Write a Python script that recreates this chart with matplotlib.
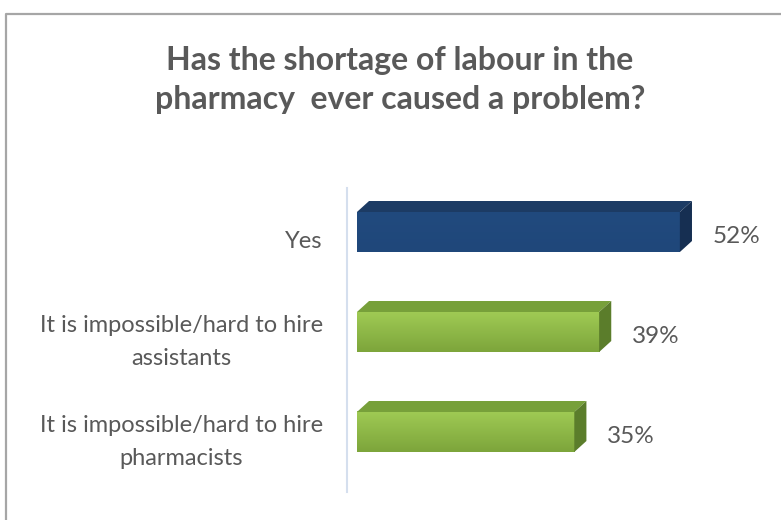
import matplotlib.pyplot as plt
import numpy as np
from matplotlib.colors import LinearSegmentedColormap
from matplotlib.patches import Polygon
from matplotlib.lines import Line2D

plt.rcParams['font.family'] = ['Lato', 'DejaVu Sans']

categories = ['Yes',
              'It is impossible/hard to hire\nassistants',
              'It is impossible/hard to hire\npharmacists']
values = [52, 39, 35]
title = 'Has the shortage of labour in the\npharmacy  ever caused a problem?'

# face colours: front (top, bottom of gradient), top face, side face
blue = ('#214a7e', '#1f477a', '#1c3b64', '#162f52')
green = ('#9fca54', '#7da53b', '#77a03a', '#5b7d2b')
styles = [blue, green, green]

text_gray = '#595959'
bar_h = 0.4
dx, dy = 1.95, 0.11   # depth of the 3d extrusion in data units

fig = plt.figure(figsize=(7.81, 5.20), dpi=100)
ax = fig.add_axes([347 / 781, 28 / 520, 431 / 781, 304 / 520])

for i, (v, st) in enumerate(zip(values, styles)):
    top, bot = i - bar_h / 2, i + bar_h / 2
    # front face with a vertical gradient
    cmap = LinearSegmentedColormap.from_list('f', [st[0], st[1]])
    grad = np.linspace(0, 1, 64).reshape(-1, 1)
    ax.imshow(grad, extent=[0, v, bot, top], aspect='auto', cmap=cmap,
              origin='upper', zorder=2, interpolation='bilinear')
    # top face
    ax.add_patch(Polygon([(0, top), (v, top), (v + dx, top - dy), (dx, top - dy)],
                         closed=True, facecolor=st[2], edgecolor='none', zorder=2))
    # side face
    ax.add_patch(Polygon([(v, top), (v + dx, top - dy), (v + dx, bot - dy), (v, bot)],
                         closed=True, facecolor=st[3], edgecolor='none', zorder=2))
    ax.annotate(f'{v}%', (v, i), xytext=(23.5, -3.5), textcoords='offset points',
                ha='left', va='center', fontsize=17.5, color=text_gray)
    ax.text(-5.5, i + 0.1, categories[i], ha='right', va='center',
            multialignment='center', fontsize=17, color=text_gray,
            linespacing=1.7)

ax.set_xlim(-1.6, 67.8)
ax.set_ylim(2.6, -0.44)
ax.set_xticks([])
ax.set_yticks([])
for s in ['top', 'right', 'bottom']:
    ax.spines[s].set_visible(False)
ax.spines['left'].set_color('#d5dfee')
ax.spines['left'].set_linewidth(1.5)

fig.text(400 / 781, 1 - 80 / 520, title, ha='center', va='center',
         fontsize=23, fontweight='bold', color=text_gray, linespacing=1.4)

# chart frame
fig.add_artist(Line2D([6 / 781, 6 / 781, 1], [0, 1 - 14 / 520, 1 - 14 / 520],
                      transform=fig.transFigure, color='#a6a6a6', lw=1.6))

fig.savefig('out.png', dpi=100)
